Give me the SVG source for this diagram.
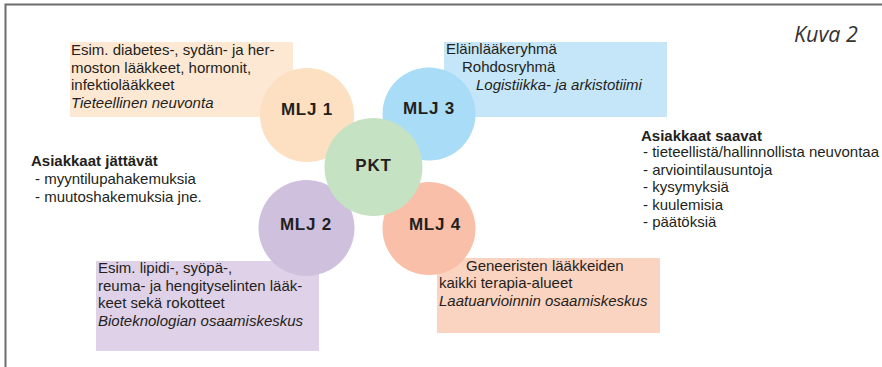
<svg xmlns="http://www.w3.org/2000/svg" width="882" height="367" viewBox="0 0 882 367">
<style>
text{font-family:"Liberation Sans",Arial,sans-serif;fill:#231f20;}
.t{font-size:15px;}
.i{font-style:italic;}
.h{font-size:15px;font-weight:bold;}
.lbl{font-size:17px;font-weight:bold;letter-spacing:0.8px;text-anchor:middle;}
.frame{fill:none;stroke:#6d6d6d;stroke-width:2;}
</style>
<rect x="0" y="0" width="882" height="367" fill="#ffffff"/>
<path class="frame" d="M5.5,367 V4.5 H882"/>
<text x="794" y="42" style="font-family:'Open Sans','Liberation Sans',sans-serif;font-style:italic;font-size:21.5px;fill:#333;">Kuva 2</text>

<g id="box1">
<rect x="70" y="42" width="223" height="75" fill="#fde8d4"/>
<text class="t" x="71" y="55">Esim. diabetes-, sydän- ja her-</text>
<text class="t" x="71" y="72.5">moston lääkkeet, hormonit,</text>
<text class="t" x="71" y="90">infektiolääkkeet</text>
<text class="t i" x="71" y="107.5">Tieteellinen neuvonta</text>
</g>
<g id="box3">
<rect x="444" y="42" width="223" height="75" fill="#c5e6f9"/>
<text class="t" x="446" y="54">Eläinlääkeryhmä</text>
<text class="t" x="462" y="72">Rohdosryhmä</text>
<text class="t i" x="476" y="90">Logistiikka- ja arkistotiimi</text>
</g>
<g id="box2">
<rect x="96" y="261" width="223" height="90" fill="#dfd1e8"/>
<text class="t" x="98" y="273">Esim. lipidi-, syöpä-,</text>
<text class="t" x="98" y="290.5">reuma- ja hengityselinten lääk-</text>
<text class="t" x="98" y="308">keet sekä rokotteet</text>
<text class="t i" x="98" y="325.5">Bioteknologian osaamiskeskus</text>
</g>
<g id="box4">
<rect x="437" y="258" width="223" height="75" fill="#fbd3c1"/>
<text class="t" x="466" y="270.5">Geneeristen lääkkeiden</text>
<text class="t" x="439" y="288">kaikki terapia-alueet</text>
<text class="t i" x="439" y="305.5">Laatuarvioinnin osaamiskeskus</text>
</g>

<g id="mlj1"><circle cx="307" cy="115" r="47" fill="#fde0c2"/><text class="lbl" x="307" y="115">MLJ 1</text></g>
<g id="mlj3"><circle cx="429" cy="114" r="46.5" fill="#a9dcf7"/><text class="lbl" x="429" y="114">MLJ 3</text></g>
<g id="mlj2"><circle cx="306.5" cy="228" r="48" fill="#cfc0de"/><text class="lbl" x="306" y="230">MLJ 2</text></g>
<g id="mlj4"><circle cx="429" cy="228.5" r="46.5" fill="#f9bfa8"/><text class="lbl" x="435" y="230">MLJ 4</text></g>
<g id="pkt"><circle cx="373.5" cy="167" r="49" fill="#c5e3c3"/><text class="lbl" x="373.5" y="171">PKT</text></g>

<g id="left">
<text class="h" x="31" y="166">Asiakkaat jättävät</text>
<text class="t" x="35" y="184">- myyntilupahakemuksia</text>
<text class="t" x="35" y="201.5">- muutoshakemuksia jne.</text>
</g>
<g id="right">
<text class="h" x="641" y="141">Asiakkaat saavat</text>
<text class="t" x="643" y="157">- tieteellistä/hallinnollista neuvontaa</text>
<text class="t" x="643" y="174.5">- arviointilausuntoja</text>
<text class="t" x="643" y="192">- kysymyksiä</text>
<text class="t" x="643" y="209.5">- kuulemisia</text>
<text class="t" x="643" y="227">- päätöksiä</text>
</g>
<g id="connectors"></g>
</svg>
